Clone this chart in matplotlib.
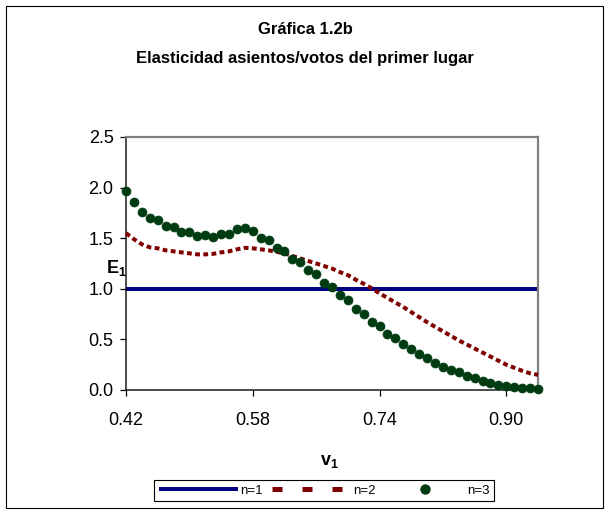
import matplotlib
matplotlib.use('Agg')
import matplotlib.pyplot as plt
from matplotlib.lines import Line2D
from matplotlib.patches import Rectangle

# ---------------- data ----------------
v1 = [0.42, 0.43, 0.44, 0.45, 0.46, 0.47, 0.48, 0.49, 0.50, 0.51,
      0.52, 0.53, 0.54, 0.55, 0.56, 0.57, 0.58, 0.59, 0.60, 0.61,
      0.62, 0.63, 0.64, 0.65, 0.66, 0.67, 0.68, 0.69, 0.70, 0.71,
      0.72, 0.73, 0.74, 0.75, 0.76, 0.77, 0.78, 0.79, 0.80, 0.81,
      0.82, 0.83, 0.84, 0.85, 0.86, 0.87, 0.88, 0.89, 0.90, 0.91,
      0.92, 0.93, 0.94]

e_n1 = [1.0, 1.0, 1.0, 1.0, 1.0, 1.0, 1.0, 1.0, 1.0, 1.0,
        1.0, 1.0, 1.0, 1.0, 1.0, 1.0, 1.0, 1.0, 1.0, 1.0,
        1.0, 1.0, 1.0, 1.0, 1.0, 1.0, 1.0, 1.0, 1.0, 1.0,
        1.0, 1.0, 1.0, 1.0, 1.0, 1.0, 1.0, 1.0, 1.0, 1.0,
        1.0, 1.0, 1.0, 1.0, 1.0, 1.0, 1.0, 1.0, 1.0, 1.0,
        1.0, 1.0, 1.0]

e_n2 = [1.55, 1.49, 1.44, 1.41, 1.40, 1.38, 1.37, 1.36, 1.35, 1.34,
        1.34, 1.345, 1.36, 1.37, 1.39, 1.405, 1.40, 1.39, 1.38, 1.365,
        1.35, 1.325, 1.30, 1.275, 1.25, 1.225, 1.20, 1.165, 1.135, 1.09,
        1.05, 1.005, 0.955, 0.91, 0.865, 0.82, 0.77, 0.72, 0.67, 0.625,
        0.58, 0.535, 0.49, 0.45, 0.41, 0.37, 0.33, 0.29, 0.25, 0.22,
        0.19, 0.165, 0.15]

e_n3 = [1.97, 1.86, 1.757, 1.70, 1.675, 1.62, 1.61, 1.56, 1.557, 1.52,
        1.534, 1.51, 1.544, 1.537, 1.586, 1.596, 1.573, 1.50, 1.478, 1.406,
        1.376, 1.297, 1.264, 1.182, 1.143, 1.061, 1.018, 0.936, 0.887, 0.805,
        0.755, 0.673, 0.634, 0.558, 0.509, 0.450, 0.401, 0.352, 0.312, 0.269,
        0.230, 0.197, 0.174, 0.138, 0.115, 0.092, 0.072, 0.052, 0.039, 0.030,
        0.023, 0.016, 0.010]

x_ticks = [0.42, 0.58, 0.74, 0.90]
x_tick_labels = ["0.42", "0.58", "0.74", "0.90"]
y_ticks = [0.0, 0.5, 1.0, 1.5, 2.0, 2.5]
y_tick_labels = ["0.0", "0.5", "1.0", "1.5", "2.0", "2.5"]
series_labels = ["n=1", "n=2", "n=3"]
title_line1 = "Gráfica 1.2b"
title_line2 = "Elasticidad asientos/votos del primer lugar"

# ---------------- style ----------------
plt.rcParams['font.family'] = ['Liberation Sans', 'DejaVu Sans']
plt.rcParams['mathtext.fontset'] = 'custom'
plt.rcParams['mathtext.rm'] = 'Liberation Sans'
plt.rcParams['mathtext.bf'] = 'Liberation Sans:bold'

BLUE = '#000080'
RED = '#800000'
GREEN = '#003c12'

W, H = 610, 514
PX = 0.72  # points per pixel at dpi 100

fig = plt.figure(figsize=(W / 100, H / 100), dpi=100)
fig.patch.set_facecolor('white')

ax = fig.add_axes([126 / W, 1 - 390 / H, (538 - 126) / W, (390 - 137) / H])

ax.plot(v1, e_n1, color=BLUE, lw=4 * PX, solid_capstyle='butt', zorder=2, clip_on=False)
ax.plot(v1, e_n2, color=RED, lw=4 * PX, dashes=(1.2, 0.85), dash_capstyle='butt',
        zorder=3, clip_on=False)
ax.plot(v1, e_n3, linestyle='none', marker='o', markersize=9 * PX,
        markerfacecolor=GREEN, markeredgecolor=GREEN, markeredgewidth=0.5,
        zorder=4, clip_on=False)

ax.set_xlim(0.42, 0.94)
ax.set_ylim(0.0, 2.5)
ax.set_xticks(x_ticks)
ax.set_xticklabels(x_tick_labels)
ax.set_yticks(y_ticks)
ax.set_yticklabels(y_tick_labels)

ax.tick_params(axis='both', which='both', direction='out', length=4.5, width=0.9,
               color='black', labelsize=13, labelcolor='black')
ax.tick_params(axis='x', pad=11)
ax.tick_params(axis='y', pad=4.5)

for s in ['left', 'bottom']:
    ax.spines[s].set_color('#1a1a1a')
    ax.spines[s].set_linewidth(1.1)
for s in ['top', 'right']:
    ax.spines[s].set_color('#808080')
    ax.spines[s].set_linewidth(1.6)

# titles
fig.text(0.5, 1 - 30 / H, title_line1, ha='center', va='center',
         fontsize=12, fontweight='bold')
fig.text(0.5, 1 - 58 / H, title_line2, ha='center', va='center',
         fontsize=12, fontweight='bold')

# axis labels
fig.text(116 / W, 1 - 268 / H, r'$\mathbf{E_1}$', ha='center', va='center', fontsize=13)
fig.text(329 / W, 1 - 461 / H, r'$\mathbf{v_1}$', ha='center', va='center', fontsize=13)

# legend
h1 = Line2D([], [], color=BLUE, lw=4 * PX, solid_capstyle='butt')
h2 = Line2D([], [], color=RED, lw=5 * PX, dashes=(2.0, 4.0), dash_capstyle='butt')
h3 = Line2D([], [], linestyle='none', marker='o', markersize=9 * PX,
            markerfacecolor=GREEN, markeredgecolor=GREEN)
leg = fig.legend([h1, h2, h3], series_labels, loc='center',
                 bbox_to_anchor=(324 / W, 1 - 490.5 / H), ncol=3, fontsize=9.5,
                 handlelength=6.0, handletextpad=0.15, columnspacing=0.75,
                 frameon=True, fancybox=False, shadow=False, framealpha=1,
                 edgecolor='black', borderpad=0.35, borderaxespad=0.0,
                 numpoints=1)
leg.get_frame().set_linewidth(0.8)

# outer chart border
fig.patches.append(Rectangle((6 / W, 1 - 508 / H), (603 - 6) / W, (508 - 6) / H,
                             transform=fig.transFigure, fill=False,
                             edgecolor='black', linewidth=0.8))

fig.savefig('out.png', dpi=100, facecolor='white')
